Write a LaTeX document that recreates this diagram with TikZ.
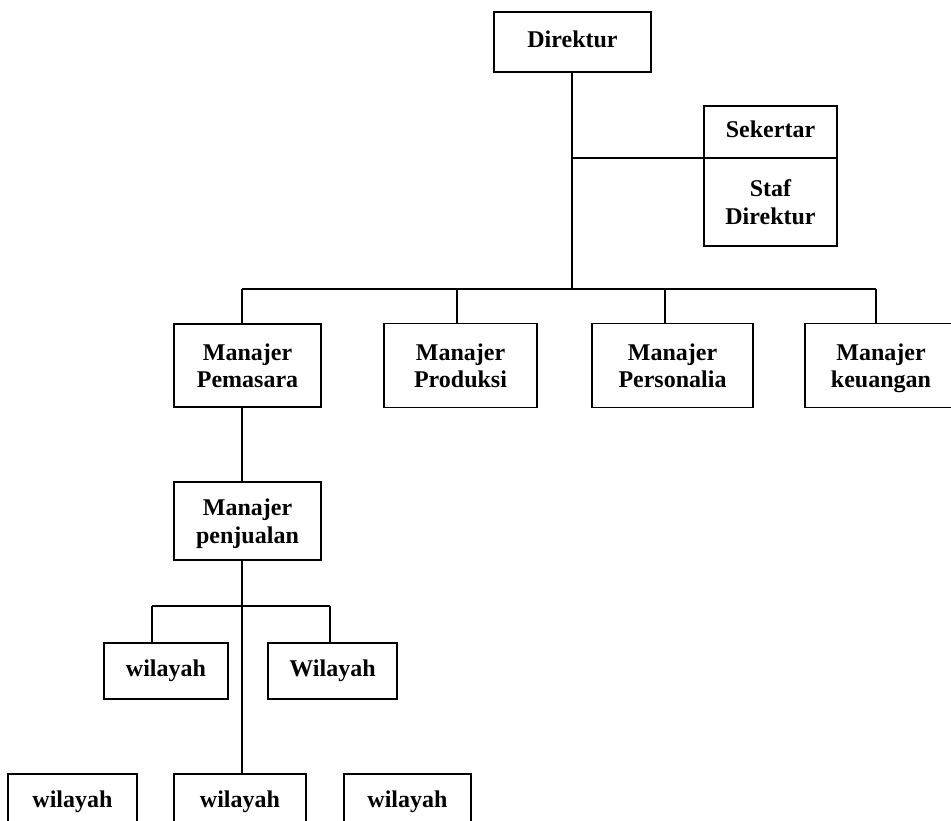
\documentclass[tikz,border=0pt]{standalone}
\usepackage{fontspec}
\setmainfont{Liberation Serif}
\newcommand\myhighstrut{\rule{0pt}{25pt}}
\begin{document}
\begin{tikzpicture}[x=1pt,y=-1pt,
  box/.style={draw=black, line width=1.8pt, rectangle, inner sep=0pt,
    align=center, font=\fontsize{24}{27.5}\selectfont\bfseries,
    execute at begin node=\strut, execute at end node=\strut},
  conn/.style={draw=black, line width=1.8pt}]
\useasboundingbox (0,0) rectangle (951,820);
\clip (0,0) rectangle (951,820);
\fill[white] (0,0) rectangle (951,820);
% nodes
\node[box, minimum width=157pt, minimum height=60pt] (dir) at (572.5,42) {Direktur};
\node[box, minimum width=133pt, minimum height=52pt] (sek) at (770.5,132) {Sekertar};
\node[box, minimum width=133pt, minimum height=88pt] (staf) at (770.5,202) {\myhighstrut Staf\\Direktur};
\node[box, minimum width=147pt, minimum height=83pt] (pem) at (247.5,365.5) {\myhighstrut Manajer\\Pemasara};
\node[box, minimum width=153pt, minimum height=84pt] (pro) at (460.5,365.5) {\myhighstrut Manajer\\Produksi};
\node[box, minimum width=161pt, minimum height=84pt] (per) at (672.5,365.5) {\myhighstrut Manajer\\Personalia};
\node[box, minimum width=152pt, minimum height=84pt] (keu) at (881,365.5) {\myhighstrut Manajer\\keuangan};
\node[box, minimum width=147pt, minimum height=78pt] (pen) at (247.5,521) {\myhighstrut Manajer\\penjualan};
\node[box, minimum width=124pt, minimum height=56pt] (w1) at (166,671) {wilayah};
\node[box, minimum width=129pt, minimum height=56pt] (w2) at (332.5,671) {Wilayah};
\node[box, minimum width=129pt, minimum height=56pt] (w3) at (72.5,802) {wilayah};
\node[box, minimum width=132pt, minimum height=56pt] (w4) at (240,802) {wilayah};
\node[box, minimum width=127pt, minimum height=56pt] (w5) at (407.5,802) {wilayah};
% junction coordinates
\coordinate (top) at (572,72);
\coordinate (js) at (572,158);
\coordinate (bus) at (572,289);
\coordinate (b1) at (242,289);
\coordinate (b2) at (457,289);
\coordinate (b3) at (665,289);
\coordinate (b4) at (876,289);
\coordinate (p1) at (242,407);
\coordinate (p2) at (242,560);
\coordinate (wl) at (152,606);
\coordinate (wr) at (330,606);
% connectors
\draw[conn] (top) -- (bus);
\draw[conn] (js) -- (js -| sek.south west);
\draw[conn] (b1) -- (b4);
\draw[conn] (b1) -- (b1 |- pem.north);
\draw[conn] (b2) -- (b2 |- pro.north);
\draw[conn] (b3) -- (b3 |- per.north);
\draw[conn] (b4) -- (b4 |- keu.north);
\draw[conn] (p1) -- (p1 |- pen.north);
\draw[conn] (p2) -- (p2 |- w4.north);
\draw[conn] (wl) -- (wr);
\draw[conn] (wl) -- (wl |- w1.north);
\draw[conn] (wr) -- (wr |- w2.north);
\end{tikzpicture}
\end{document}
